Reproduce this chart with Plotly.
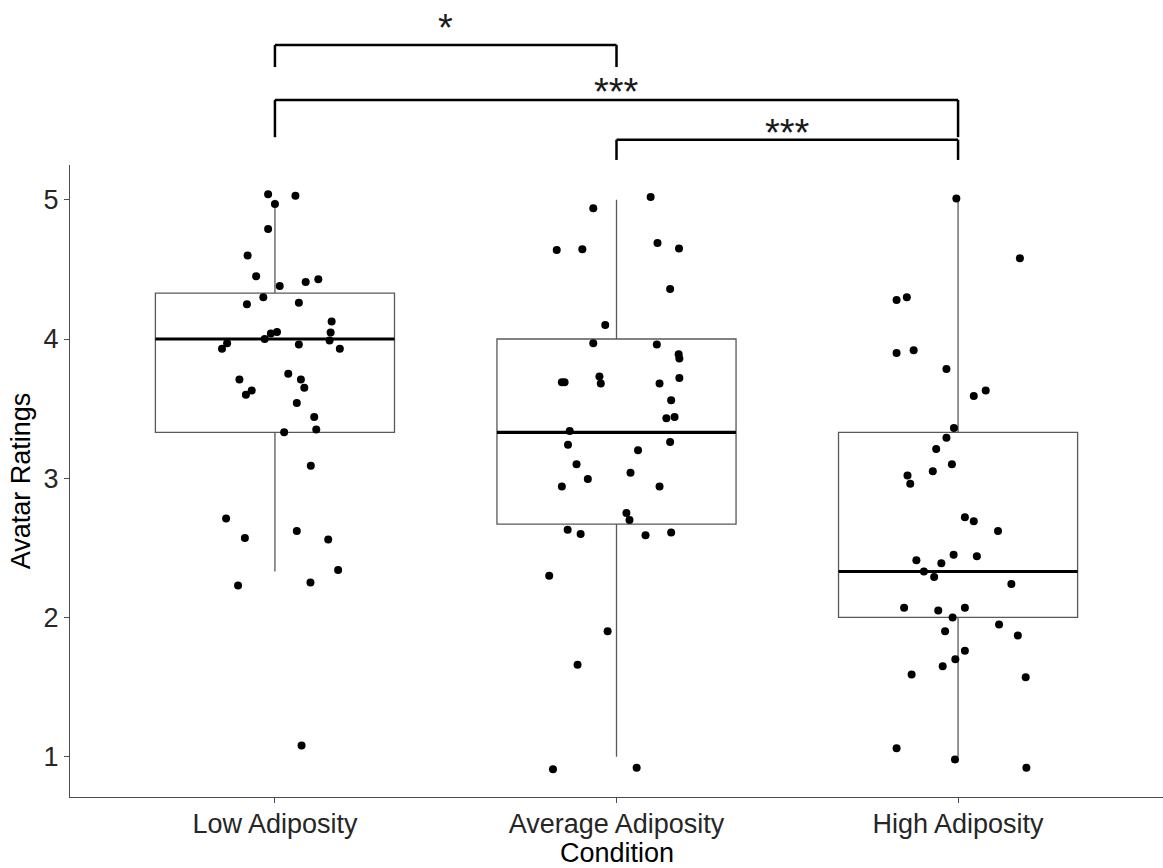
import plotly.graph_objects as go

categories = ["Low Adiposity", "Average Adiposity", "High Adiposity"]

# box statistics (q1, median, q3, lower whisker, upper whisker)
q1 = [3.33, 2.67, 2.00]
median = [4.00, 3.33, 2.33]
q3 = [4.33, 4.00, 3.33]
lower_whisker = [2.33, 1.00, 1.00]
upper_whisker = [5.00, 5.00, 5.00]

# jittered observations: rating values and horizontal jitter offsets
low_y = [5.04, 5.03, 4.97, 4.79, 4.60, 4.45, 4.41, 4.43, 4.38, 4.30, 4.25, 4.26,
         4.125, 4.046, 3.99, 3.93, 4.05, 4.04, 4.00, 3.97, 3.93, 3.96, 3.75, 3.71,
         3.65, 3.71, 3.63, 3.60, 3.54, 3.44, 3.35, 3.33, 3.09, 2.71, 2.57, 2.62,
         2.56, 2.34, 2.23, 2.25, 1.08]
low_dx = [-0.02, 0.06, 0.0, -0.02, -0.08, -0.055, 0.09, 0.127, 0.014, -0.034, -0.082, 0.07,
          0.166, 0.163, 0.16, 0.19, 0.006, -0.012, -0.03, -0.14, -0.155, 0.07, 0.039, 0.076,
          0.086, -0.104, -0.068, -0.085, 0.064, 0.115, 0.121, 0.027, 0.105, -0.143, -0.088, 0.064,
          0.156, 0.185, -0.108, 0.104, 0.078]

avg_y = [5.02, 4.94, 4.64, 4.645, 4.69, 4.65, 4.36, 4.10, 3.97, 3.96, 3.89, 3.86,
         3.69, 3.69, 3.73, 3.68, 3.68, 3.72, 3.56, 3.43, 3.44, 3.34, 3.26, 3.24,
         3.20, 3.10, 3.04, 2.995, 2.94, 2.94, 2.75, 2.70, 2.63, 2.60, 2.59, 2.61,
         2.30, 1.90, 1.66, 0.91, 0.92]
avg_dx = [0.10, -0.068, -0.175, -0.10, 0.12, 0.183, 0.157, -0.033, -0.068, 0.118, 0.182, 0.184,
          -0.16, -0.152, -0.05, -0.046, 0.126, 0.184, 0.16, 0.146, 0.17, -0.137, 0.157, -0.142,
          0.063, -0.117, 0.041, -0.084, -0.16, 0.126, 0.029, 0.038, -0.143, -0.105, 0.085, 0.16,
          -0.197, -0.026, -0.114, -0.186, 0.059]

high_y = [5.01, 4.58, 4.28, 4.30, 3.90, 3.92, 3.785, 3.59, 3.63, 3.36, 3.29, 3.21,
          3.10, 3.05, 3.02, 2.96, 2.72, 2.69, 2.62, 2.41, 2.39, 2.45, 2.44, 2.33,
          2.29, 2.24, 2.07, 2.05, 2.07, 2.00, 1.95, 1.87, 1.90, 1.76, 1.70, 1.65,
          1.59, 1.57, 1.06, 0.98, 0.92]
high_dx = [-0.005, 0.181, -0.18, -0.15, -0.18, -0.13, -0.034, 0.046, 0.081, -0.012, -0.034, -0.064,
           -0.018, -0.074, -0.148, -0.14, 0.02, 0.046, 0.117, -0.122, -0.049, -0.013, 0.055, -0.10,
           -0.07, 0.156, -0.158, -0.058, 0.02, -0.016, 0.12, 0.175, -0.038, 0.02, -0.008, -0.045,
           -0.136, 0.198, -0.18, -0.009, 0.20]

# significance comparisons: (from index, to index, label)
comparisons = [(0, 1, "*"), (0, 2, "***"), (1, 2, "***")]
# bracket vertical placement in paper units: (top, left drop, right drop, label y)
bracket_levels = [(1.190, 1.155, 1.155, 1.2165), (1.103, 1.044, 1.044, 1.1155), (1.040, 1.008, 1.008, 1.0505)]

box_width = 0.7
box_line = "#595959"
FONT = "Arial, Liberation Sans"

fig = go.Figure()

for i in range(len(categories)):
    fig.add_trace(go.Box(
        x=[i], q1=[q1[i]], median=[median[i]], q3=[q3[i]],
        lowerfence=[lower_whisker[i]], upperfence=[upper_whisker[i]],
        width=box_width, whiskerwidth=0, boxpoints=False,
        fillcolor="white", line=dict(color=box_line, width=1.3),
        showlegend=False, hoverinfo="skip",
    ))

for i in range(len(categories)):
    fig.add_trace(go.Scatter(
        x=[i - box_width / 2, i + box_width / 2], y=[median[i], median[i]],
        mode="lines", line=dict(color="black", width=3.2),
        showlegend=False, hoverinfo="skip",
    ))

for i, (ys, dxs) in enumerate([(low_y, low_dx), (avg_y, avg_dx), (high_y, high_dx)]):
    fig.add_trace(go.Scatter(
        x=[i + d for d in dxs], y=ys, mode="markers",
        marker=dict(color="black", size=8),
        showlegend=False,
    ))

shapes = []
annotations = []
for (a, b, lab), (top, ldrop, rdrop, ty) in zip(comparisons, bracket_levels):
    ln = dict(color="black", width=2.5)
    shapes.append(dict(type="line", xref="x", yref="paper", x0=a, x1=b, y0=top, y1=top, line=ln))
    shapes.append(dict(type="line", xref="x", yref="paper", x0=a, x1=a, y0=top, y1=ldrop, line=ln))
    shapes.append(dict(type="line", xref="x", yref="paper", x0=b, x1=b, y0=top, y1=rdrop, line=ln))
    annotations.append(dict(x=(a + b) / 2, y=ty, xref="x", yref="paper", text=lab,
                            showarrow=False, font=dict(size=38, color="#1a1a1a", family=FONT),
                            xanchor="center", yanchor="middle"))

# x-axis title placed under the tick labels
annotations.append(dict(x=1, y=-0.0886, xref="x", yref="paper", text="Condition",
                        showarrow=False, font=dict(size=27, color="black", family=FONT),
                        xanchor="center", yanchor="middle"))

axis_common = dict(showline=True, linecolor="#4d4d4d", linewidth=1.3, ticks="outside",
                   ticklen=5, tickcolor="#4d4d4d", tickwidth=1.3, showgrid=False, zeroline=False,
                   tickfont=dict(size=27, color="#262626", family=FONT))

fig.update_layout(
    width=1163, height=868,
    margin=dict(l=70, r=0, t=165, b=71),
    plot_bgcolor="white", paper_bgcolor="white",
    shapes=shapes, annotations=annotations,
    xaxis=dict(range=[-0.6, 2.6], tickvals=list(range(len(categories))), ticktext=categories,
               ticklabelstandoff=-3, **axis_common),
    yaxis=dict(range=[0.71, 5.25], tickvals=[1, 2, 3, 4, 5],
               title=dict(text="Avatar Ratings", standoff=4,
                          font=dict(size=27, color="black", family=FONT)),
               **axis_common),
)

fig.write_html("out.html")
